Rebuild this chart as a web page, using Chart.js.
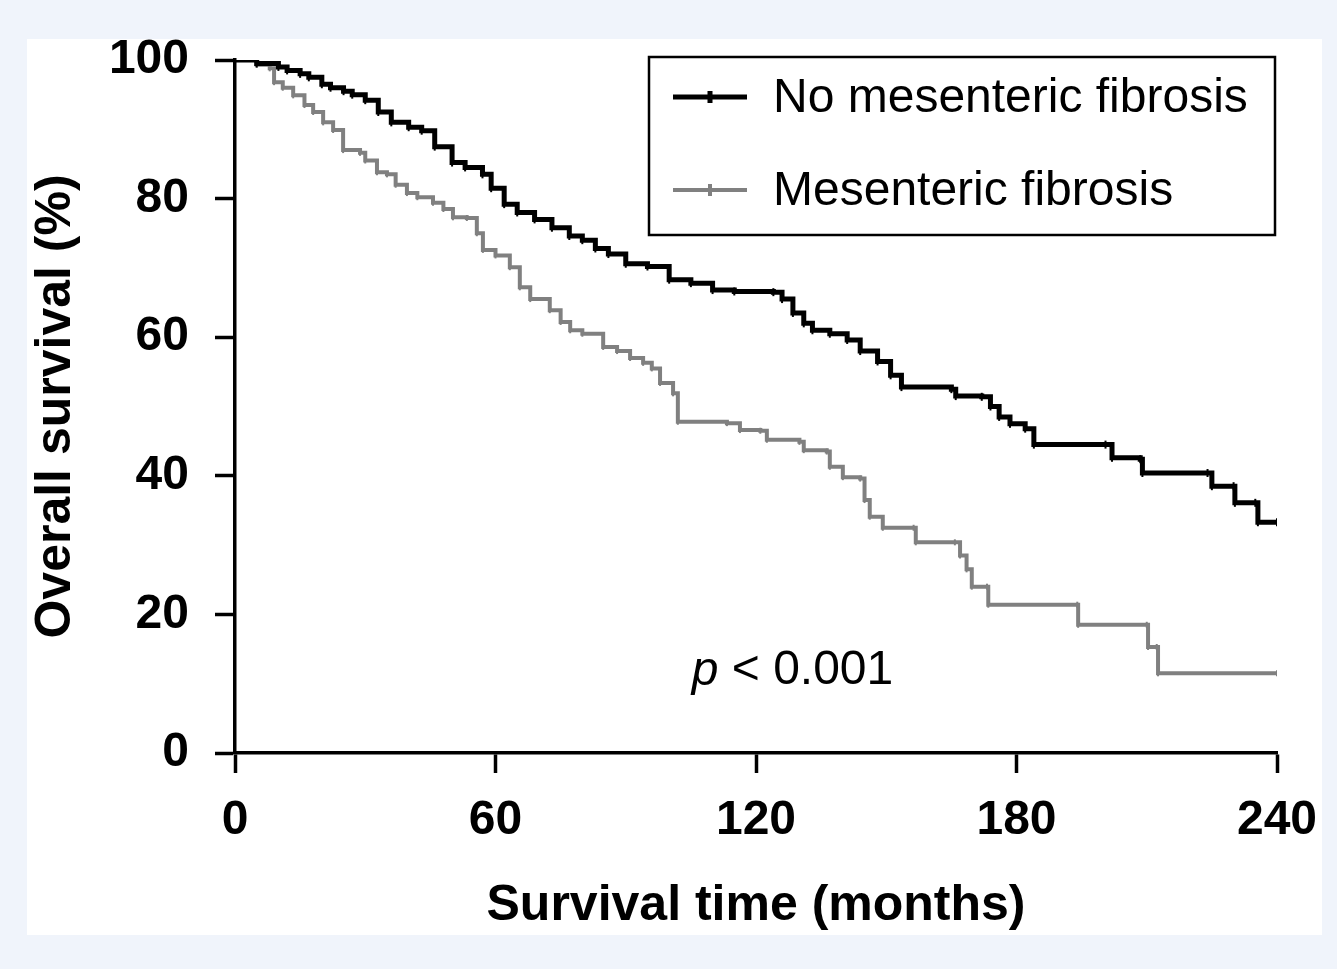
<!DOCTYPE html>
<html>
<head>
<meta charset="utf-8">
<script src="https://cdn.jsdelivr.net/npm/chart.js@4"></script>
<style>
  html, body { margin: 0; padding: 0; background: #f0f4fb; }
  #panel { position: absolute; left: 27px; top: 39px; width: 1295px; height: 896px; background: #fff; }
</style>
</head>
<body>
<div id="panel"><canvas id="kmChart"></canvas></div>
<script>
// Kaplan-Meier estimates (months, % surviving)
const noFibTime = [0, 5, 10, 12, 15, 17, 20, 22, 25, 27, 30, 33, 36, 40, 43, 46, 50, 53, 57, 59,
  62, 65, 69, 73, 77, 80, 83, 86, 90, 95, 100, 105, 110, 115, 124, 126, 128.5, 131, 133, 137,
  141, 144, 148, 151, 153.5, 165, 166, 172, 174, 176, 178.5, 182, 184, 200.5, 202, 208.5, 209,
  224, 225, 230, 230.3, 235, 235.6, 240];
const noFibSurv = [100, 99.5, 99, 98.5, 98, 97.5, 96.5, 96, 95.5, 95, 94.2, 92.5, 91, 90.3, 89.8, 87.5, 85.2, 84.5, 83.5, 81.5,
  79.2, 78, 77, 75.8, 74.6, 74, 72.8, 72, 70.6, 70.2, 68.3, 67.8, 66.8, 66.6, 66.5, 65.5, 63.5, 62, 61, 60.5,
  59.6, 58, 56.5, 54.5, 52.8, 52.5, 51.5, 51.4, 50, 48.5, 47.5, 46.8, 44.5, 44.5, 42.6, 42.4, 40.4,
  40.4, 38.5, 38.5, 36.1, 36.1, 33.3, 33.3];

const fibTime = [0, 5, 8, 9, 11, 13.4, 16, 18, 20.3, 22.6, 24.9, 28.8, 30, 32.7, 35, 37, 39.6, 42, 45.6, 48,
  50.2, 53.4, 55.7, 57.1, 60, 63.3, 65.6, 68, 72.5, 75, 77.2, 80, 84.8, 88, 91, 94, 96, 97.9, 100.9, 102,
  113.3, 116.3, 121, 122.5, 130, 131, 136.3, 137, 140, 144, 145, 146.2, 149.2, 156.3, 156.8, 165.8, 167, 168.5, 169.7, 173.2,
  173.5, 194, 194.2, 210, 210.3, 212.3, 212.6, 240];
const fibSurv = [100, 99.3, 98.8, 96.8, 96, 94.9, 93.5, 92.5, 91, 89.9, 87, 86.6, 85.5, 83.8, 83.5, 82, 80.8, 80.2, 79.4, 78.5,
  77.3, 77.2, 75, 72.6, 71.8, 70.1, 67.2, 65.5, 63.9, 62.2, 61, 60.5, 58.6, 58, 57, 56.3, 55.5, 53.4, 51.9, 47.8,
  47.6, 46.6, 46.5, 45.2, 44.9, 43.7, 43.5, 41.3, 39.8, 39.6, 36.5, 34.1, 32.5, 32.5, 30.4, 30.4, 28.5, 26.5, 24, 24,
  21.4, 21.4, 18.5, 18.5, 15.3, 15.3, 11.5, 11.5];

const xTicks = [0, 60, 120, 180, 240];
const yTicks = [0, 20, 40, 60, 80, 100];
const seriesNames = ['No mesenteric fibrosis', 'Mesenteric fibrosis'];

const toPoints = (t, s) => t.map((x, i) => ({ x: x, y: s[i] }));

// legend box and p value drawn on top of the plot
const annotations = {
  id: 'annotations',
  afterDraw(chart) {
    const ctx = chart.ctx;
    const a = chart.chartArea;
    const bx = a.left + 414, by = a.top - 3, bw = 626, bh = 178;
    ctx.save();
    ctx.strokeStyle = '#000';
    ctx.lineWidth = 2.5;
    ctx.strokeRect(bx, by, bw, bh);
    chart.data.datasets.forEach((ds, i) => {
      const y = by + 40 + i * 93;
      ctx.strokeStyle = ds.borderColor;
      ctx.lineWidth = ds.borderWidth;
      ctx.beginPath();
      ctx.moveTo(bx + 24, y);
      ctx.lineTo(bx + 98, y);
      ctx.moveTo(bx + 61, y - 6);
      ctx.lineTo(bx + 61, y + 6);
      ctx.stroke();
      ctx.fillStyle = '#000';
      ctx.font = '48px "Liberation Sans", Arial, sans-serif';
      ctx.textBaseline = 'middle';
      ctx.fillText(ds.label, bx + 124, y + 2);
    });
    // p value
    const px = chart.scales.x.getPixelForValue(105.2);
    const py = chart.scales.y.getPixelForValue(11.8);
    ctx.fillStyle = '#000';
    ctx.textBaseline = 'middle';
    ctx.font = 'italic 48px "Liberation Sans", Arial, sans-serif';
    ctx.fillText('p', px, py);
    const w = ctx.measureText('p ').width;
    ctx.font = '48px "Liberation Sans", Arial, sans-serif';
    ctx.fillText('< 0.001', px + w, py);
    ctx.restore();
  }
};

const tickFont = { family: '"Liberation Sans", Arial, sans-serif', size: 48, weight: 'bold' };
const titleFont = { family: '"Liberation Sans", Arial, sans-serif', size: 50, weight: 'bold', lineHeight: 1.0 };

// keep the plot box where the figure has it: no extra padding from tick labels
const noPad = (s) => { s.paddingTop = 0; s.paddingBottom = 0; s.paddingLeft = 0; s.paddingRight = 0; };

new Chart(document.getElementById('kmChart'), {
  type: 'line',
  data: {
    datasets: [{
      label: seriesNames[0],
      data: toPoints(noFibTime, noFibSurv),
      borderColor: '#000000',
      borderWidth: 5,
      stepped: 'before',
      pointStyle: 'line',
      rotation: 90,
      pointRadius: 4,
      pointBorderWidth: 2,
      pointBorderColor: '#000000'
    }, {
      label: seriesNames[1],
      data: toPoints(fibTime, fibSurv),
      borderColor: '#808080',
      borderWidth: 4,
      stepped: 'before',
      pointStyle: 'line',
      rotation: 90,
      pointRadius: 3,
      pointBorderWidth: 2,
      pointBorderColor: '#808080'
    }]
  },
  options: {
    responsive: true,
    maintainAspectRatio: false,
    animation: false,
    layout: { padding: { top: 21, right: 45, bottom: 0, left: 0 } },
    plugins: { legend: { display: false }, tooltip: { enabled: false } },
    scales: {
      x: {
        type: 'linear',
        min: 0,
        max: 240,
        afterBuildTicks: (s) => { s.ticks = xTicks.map(v => ({ value: v })); },
        afterFit: (s) => { s.height = 182; noPad(s); },
        border: { display: true, color: '#000', width: 3.5 },
        grid: { drawOnChartArea: false, drawTicks: true, tickLength: 20, tickWidth: 3.5, tickColor: '#000' },
        ticks: { color: '#000', font: tickFont, padding: 19, maxRotation: 0 },
        title: { display: true, text: 'Survival time (months)', color: '#000', font: titleFont, padding: { top: 0, bottom: 4 } }
      },
      y: {
        min: 0,
        max: 100,
        afterBuildTicks: (s) => { s.ticks = yTicks.map(v => ({ value: v })); },
        afterFit: (s) => { s.width = 208; noPad(s); },
        border: { display: true, color: '#000', width: 3.5 },
        grid: { drawOnChartArea: false, drawTicks: true, tickLength: 20, tickWidth: 3.5, tickColor: '#000' },
        ticks: { color: '#000', font: tickFont, padding: 26 },
        title: { display: true, text: 'Overall survival (%)', color: '#000', font: titleFont, padding: { top: 4, bottom: 0 } }
      }
    }
  },
  plugins: [annotations]
});
</script>
</body>
</html>
